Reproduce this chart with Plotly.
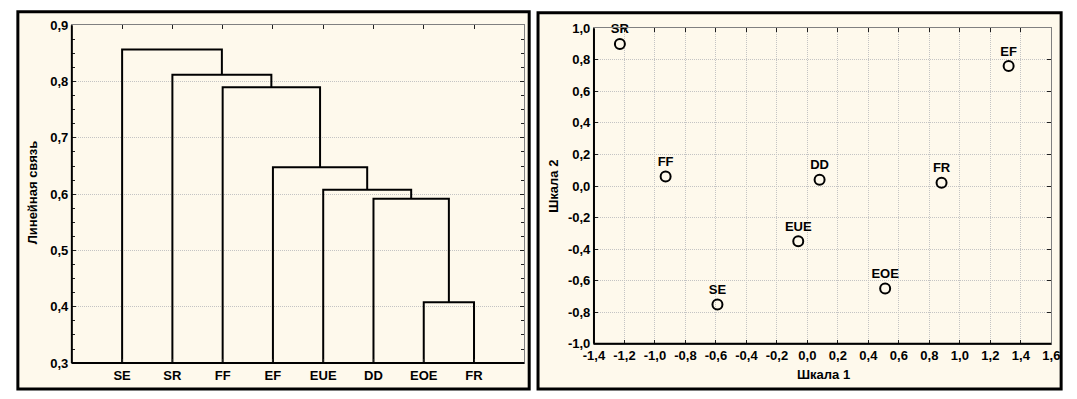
import plotly.graph_objects as go

W, H = 1077, 399

# ---------------- Dendrogram data ----------------
leaf_labels = ["SE", "SR", "FF", "EF", "EUE", "DD", "EOE", "FR"]
merge_left = ["EOE", "DD", "EUE", "EF", "FF", "SR", "SE"]
merge_right = ["FR", "C1", "C2", "C3", "C4", "C5", "C6"]
merge_height = [0.408, 0.592, 0.608, 0.648, 0.790, 0.812, 0.857]
dendro_ytickvals = [0.3, 0.4, 0.5, 0.6, 0.7, 0.8, 0.9]
dendro_yticktext = ["0,3", "0,4", "0,5", "0,6", "0,7", "0,8", "0,9"]
dendro_ytitle = "Линейная связь"

# ---------------- MDS scatter data ----------------
mds_labels = ["SR", "FF", "DD", "EUE", "SE", "EOE", "FR", "EF"]
scale1 = [-1.23, -0.93, 0.08, -0.06, -0.59, 0.51, 0.88, 1.32]
scale2 = [0.90, 0.06, 0.04, -0.35, -0.75, -0.65, 0.02, 0.76]
mds_xtickvals = [-1.4, -1.2, -1.0, -0.8, -0.6, -0.4, -0.2, 0.0, 0.2, 0.4, 0.6, 0.8, 1.0, 1.2, 1.4, 1.6]
mds_xticktext = ["-1,4", "-1,2", "-1,0", "-0,8", "-0,6", "-0,4", "-0,2", "0,0", "0,2", "0,4", "0,6", "0,8", "1,0", "1,2", "1,4", "1,6"]
mds_ytickvals = [-1.0, -0.8, -0.6, -0.4, -0.2, 0.0, 0.2, 0.4, 0.6, 0.8, 1.0]
mds_yticktext = ["-1,0", "-0,8", "-0,6", "-0,4", "-0,2", "0,0", "0,2", "0,4", "0,6", "0,8", "1,0"]
mds_xtitle = "Шкала 1"
mds_ytitle = "Шкала 2"

FONT = "Liberation Sans, Arial, sans-serif"
CREAM = "#FEF9EC"
GRID = "#c4c4c4"

# Build dendrogram links through the merge structure
pos = {name: i + 1 for i, name in enumerate(leaf_labels)}
hgt = {name: 0.3 for name in leaf_labels}
dx, dy = [], []
for k, (l, r, mh) in enumerate(zip(merge_left, merge_right, merge_height)):
    dx += [pos[l], pos[l], pos[r], pos[r], None]
    dy += [hgt[l], mh, mh, hgt[r], None]
    c = "C%d" % (k + 1)
    pos[c] = (pos[l] + pos[r]) / 2
    hgt[c] = mh

fig = go.Figure()
fig.add_trace(go.Scatter(x=dx, y=dy, mode="lines", line=dict(color="black", width=2),
                         xaxis="x", yaxis="y", showlegend=False, hoverinfo="skip"))
fig.add_trace(go.Scatter(x=scale1, y=scale2, mode="markers+text", text=mds_labels,
                         textposition="top center", cliponaxis=False,
                         textfont=dict(family=FONT, size=13, color="black", weight="bold"),
                         marker=dict(symbol="circle-open", size=10, color="black",
                                     line=dict(width=2, color="black")),
                         xaxis="x2", yaxis="y2", showlegend=False))

tickfont = dict(family=FONT, size=13, color="black", weight="bold")
common = dict(showline=True, linecolor="#808080", linewidth=1, mirror="ticks",
              ticks="inside", ticklen=4, tickcolor="#202020", tickfont=tickfont,
              zeroline=False)
grid = dict(showgrid=True, gridcolor=GRID, griddash="1px,1px", gridwidth=1)

xd1, yd1 = [62 / W, 523 / W], [1 - 370 / H, 1 - 19 / H]
xd2, yd2 = [594 / W, 1060 / W], [1 - 350 / H, 1 - 22 / H]


def axis_lines(xd, yd):
    # solid black left and bottom axis lines
    return [
        dict(type="line", xref="paper", yref="paper", x0=xd[0], x1=xd[0], y0=yd[0], y1=yd[1],
             line=dict(color="black", width=2), layer="above"),
        dict(type="line", xref="paper", yref="paper", x0=xd[0], x1=xd[1], y0=yd[0], y1=yd[0],
             line=dict(color="black", width=2), layer="above"),
    ]


fig.update_layout(
    width=W, height=H,
    margin=dict(l=0, r=0, t=0, b=0),
    paper_bgcolor="white", plot_bgcolor="white",
    separators=", ",
    xaxis=dict(domain=xd1, range=[0, 9], tickvals=list(range(1, 9)),
               ticktext=leaf_labels, showgrid=False, anchor="y", **common),
    yaxis=dict(domain=yd1, range=[0.3, 0.9],
               tickvals=dendro_ytickvals, ticktext=dendro_yticktext,
               minor=dict(ticks="inside", dtick=0.025, ticklen=3, tickcolor="#202020", showgrid=False),
               anchor="x", **grid, **common),
    xaxis2=dict(domain=xd2, range=[-1.4, 1.6],
                tickvals=mds_xtickvals, ticktext=mds_xticktext,
                anchor="y2", **grid, **common),
    yaxis2=dict(domain=yd2, range=[-1.0, 1.0],
                tickvals=mds_ytickvals, ticktext=mds_yticktext,
                anchor="x2", **grid, **common),
    shapes=[
        dict(type="rect", xref="paper", yref="paper", x0=7 / W, x1=528 / W,
             y0=1 - 397 / H, y1=1 - 5 / H, fillcolor=CREAM,
             line=dict(color="black", width=3), layer="below"),
        dict(type="rect", xref="paper", yref="paper", x0=537 / W, x1=1070 / W,
             y0=1 - 397 / H, y1=1 - 6 / H, fillcolor=CREAM,
             line=dict(color="black", width=3), layer="below"),
    ] + axis_lines(xd1, yd1) + axis_lines(xd2, yd2),
    annotations=[
        dict(text=dendro_ytitle, xref="paper", yref="paper", x=22 / W, y=1 - 193 / H,
             textangle=-90, showarrow=False, xanchor="center", yanchor="middle",
             font=dict(family=FONT, size=13, color="black", weight="bold")),
        dict(text=mds_xtitle, xref="paper", yref="paper", x=828 / W, y=1 - 382 / H,
             showarrow=False, xanchor="center", yanchor="middle",
             font=dict(family=FONT, size=13, color="black", weight="bold")),
        dict(text=mds_ytitle, xref="paper", yref="paper", x=552 / W, y=1 - 186 / H,
             textangle=-90, showarrow=False, xanchor="center", yanchor="middle",
             font=dict(family=FONT, size=13, color="black", weight="bold")),
    ],
)

fig.write_html("out.html", config={"displayModeBar": False},
               post_script="document.body.style.margin='0px';document.body.style.overflow='hidden';")
